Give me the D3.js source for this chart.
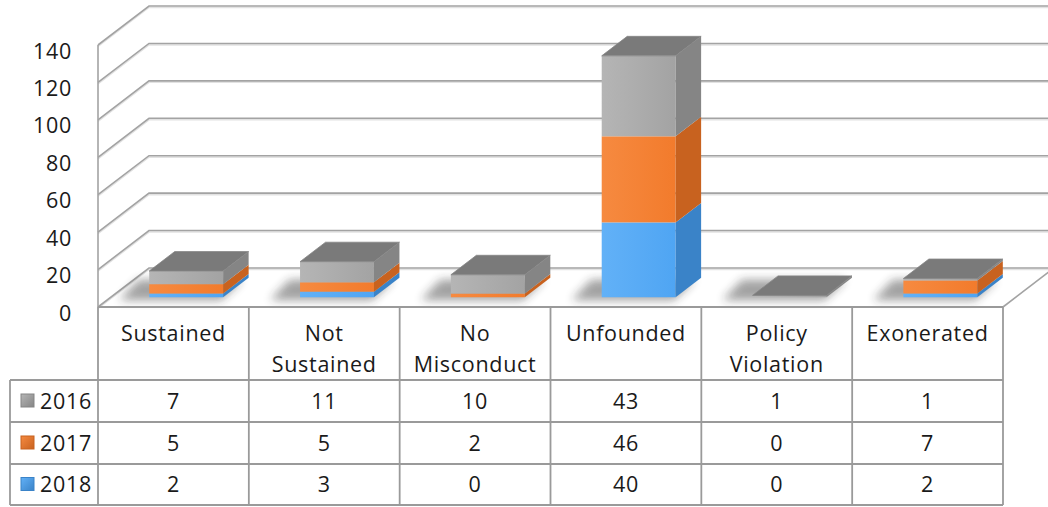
<!DOCTYPE html>
<html>
<head>
<meta charset="utf-8">
<script src="https://cdn.jsdelivr.net/npm/d3@7"></script>
<style>
  html, body { margin: 0; padding: 0; background: #fff; }
  svg { display: block; }
  text { font-family: "Open Sans", "Noto Sans", sans-serif; fill: #1a1a1a; letter-spacing: 0.7px; }
</style>
</head>
<body>
<svg id="chart" width="1048" height="507"></svg>
<script>
// ---- data ----
const categories = ["Sustained", "Not Sustained", "No Misconduct", "Unfounded", "Policy Violation", "Exonerated"];
const categoryLines = [["Sustained"], ["Not", "Sustained"], ["No", "Misconduct"], ["Unfounded"], ["Policy", "Violation"], ["Exonerated"]];
const seriesNames = ["2016", "2017", "2018"];
const values2016 = [7, 11, 10, 43, 1, 1];
const values2017 = [5, 5, 2, 46, 0, 7];
const values2018 = [2, 3, 0, 40, 0, 2];
const yTicks = [0, 20, 40, 60, 80, 100, 120, 140];

const seriesValues = { "2016": values2016, "2017": values2017, "2018": values2018 };
const colors = {
  "2016": { front: "#a3a3a3", light: "#b5b5b5", side: "#858585", top: "#7a7a7a" },
  "2017": { front: "#f27b2c", light: "#f68a40", side: "#c8621f", top: "#d06a26" },
  "2018": { front: "#4fa5f3", light: "#62b1f7", side: "#3a83c8", top: "#3f8fd8" }
};

const svg = d3.select("#chart");
const W = 1048;
const left = 98, right = 1003, floorY = 307;
const DX = 51, DY = -39; // oblique depth offset (full depth)
const d0 = 0.25, d1 = 0.75;
const FS = 21.5;

const x = d3.scaleBand().domain(categories).range([left, right]).padding(0);
const y = d3.scaleLinear().domain([0, 140]).range([floorY, 45]);
const barW = x.bandwidth() * 0.49;

// defs
const defs = svg.append("defs");
defs.append("filter").attr("id", "blur").attr("x", "-50%").attr("y", "-50%").attr("width", "200%").attr("height", "200%")
  .append("feGaussianBlur").attr("stdDeviation", 5);
seriesNames.forEach(s => {
  const g = defs.append("linearGradient").attr("id", "gf" + s).attr("x1", 0).attr("x2", 1).attr("y1", 0).attr("y2", 0);
  g.append("stop").attr("offset", "0%").attr("stop-color", colors[s].light);
  g.append("stop").attr("offset", "100%").attr("stop-color", colors[s].front);
  const k = defs.append("linearGradient").attr("id", "gk" + s).attr("x1", 0).attr("x2", 1).attr("y1", 0).attr("y2", 1);
  k.append("stop").attr("offset", "0%").attr("stop-color", colors[s].light);
  k.append("stop").attr("offset", "100%").attr("stop-color", colors[s].side);
});

// ---- gridlines / walls ----
const grid = svg.append("g");
yTicks.forEach(t => {
  const yf = y(t);
  const pts = [[left, yf], [left + DX, yf + DY], [W + 10, yf + DY]];
  grid.append("path").attr("d", d3.line()(pts.map(p => [p[0], p[1] + 1.5])))
    .attr("fill", "none").attr("stroke", "#e2e2e2").attr("stroke-width", 1.5);
  grid.append("path").attr("d", d3.line()(pts))
    .attr("fill", "none").attr("stroke", "#a3a3a3").attr("stroke-width", 1.6);
});
grid.append("line").attr("x1", left).attr("x2", left).attr("y1", y(140)).attr("y2", floorY)
  .attr("stroke", "#a3a3a3").attr("stroke-width", 1.6);
grid.append("line").attr("x1", right).attr("y1", floorY).attr("x2", right + DX).attr("y2", floorY + DY)
  .attr("stroke", "#a3a3a3").attr("stroke-width", 1.6);

// ---- bars ----
const stackData = categories.map((c, i) => {
  let acc = 0;
  const segs = [];
  ["2018", "2017", "2016"].forEach(s => {
    const v = seriesValues[s][i];
    segs.push({ s, y0: acc, y1: acc + v, v });
    acc += v;
  });
  return { c, segs, total: acc };
});

const bars = svg.append("g");
stackData.forEach(d => {
  const x0 = x(d.c) + (x.bandwidth() - barW) / 2 + d0 * DX;
  const x1 = x0 + barW;
  const ox = (d1 - d0) * DX, oy = (d1 - d0) * DY;
  const fy = v => y(v) + d0 * DY;
  const by = fy(0);
  // soft shadow on floor, cast to the left
  bars.append("path")
    .attr("d", d3.line()([[x0 - 30, by + 3], [x1 - 2, by + 3], [x1 + ox - 6, by + oy + 2], [x0 + ox - 36, by + oy + 2]]) + "Z")
    .attr("fill", "#222").attr("opacity", 0.42).attr("filter", "url(#blur)");
  const g = bars.append("g");
  d.segs.filter(s => s.v > 0).forEach(sg => {
    const yt = fy(sg.y1), yb = fy(sg.y0);
    g.append("rect").attr("x", x0).attr("y", yt).attr("width", barW).attr("height", Math.max(0.5, yb - yt))
      .attr("fill", "url(#gf" + sg.s + ")");
    g.append("path").attr("d", d3.line()([[x1, yb], [x1, yt], [x1 + ox, yt + oy], [x1 + ox, yb + oy]]) + "Z")
      .attr("fill", colors[sg.s].side);
  });
  const topSeg = d.segs.filter(s => s.v > 0).slice(-1)[0];
  if (topSeg) {
    const yt = fy(d.total);
    g.append("path").attr("d", d3.line()([[x0, yt], [x1, yt], [x1 + ox, yt + oy], [x0 + ox, yt + oy]]) + "Z")
      .attr("fill", colors[topSeg.s].top).attr("stroke", colors[topSeg.s].side).attr("stroke-width", 0.8);
  }
});

// ---- y axis labels ----
svg.append("g").selectAll("text").data(yTicks).join("text")
  .attr("x", 72).attr("y", t => y(t) + 6).attr("dy", "0.35em")
  .attr("text-anchor", "end").attr("font-size", FS).text(t => t);

// ---- data table ----
const rowTops = [307, 380, 422, 464, 505];
const tableLeft = 10;
const tbl = svg.append("g");
const lineC = "#9a9a9a";
tbl.append("line").attr("x1", left).attr("x2", right).attr("y1", rowTops[0]).attr("y2", rowTops[0])
  .attr("stroke", lineC).attr("stroke-width", 1.8);
rowTops.slice(1).forEach(r => {
  tbl.append("line").attr("x1", tableLeft).attr("x2", right).attr("y1", r).attr("y2", r)
    .attr("stroke", lineC).attr("stroke-width", 1.8);
});
tbl.append("line").attr("x1", tableLeft).attr("x2", tableLeft).attr("y1", rowTops[1]).attr("y2", rowTops[4])
  .attr("stroke", lineC).attr("stroke-width", 1.8);
[left, ...categories.map(c => x(c) + x.bandwidth())].forEach(xv => {
  tbl.append("line").attr("x1", xv).attr("x2", xv).attr("y1", rowTops[0]).attr("y2", rowTops[4])
    .attr("stroke", lineC).attr("stroke-width", 1.8);
});
categories.forEach((c, i) => {
  categoryLines[i].forEach((ln, j) => {
    tbl.append("text").attr("x", x(c) + x.bandwidth() / 2).attr("y", 333 + j * 31).attr("dy", "0.35em")
      .attr("text-anchor", "middle").attr("font-size", FS).text(ln);
  });
});
seriesNames.forEach((s, ri) => {
  const cy = (rowTops[ri + 1] + rowTops[ri + 2]) / 2;
  tbl.append("rect").attr("x", 21).attr("y", cy - 7).attr("width", 13).attr("height", 13)
    .attr("fill", "url(#gk" + s + ")").attr("stroke", colors[s].side).attr("stroke-width", 1);
  tbl.append("text").attr("x", 40).attr("y", cy).attr("dy", "0.35em").attr("font-size", FS).text(s);
  categories.forEach((c, i) => {
    tbl.append("text").attr("x", x(c) + x.bandwidth() / 2).attr("y", cy).attr("dy", "0.35em")
      .attr("text-anchor", "middle").attr("font-size", FS).text(seriesValues[s][i]);
  });
});
</script>
</body>
</html>
